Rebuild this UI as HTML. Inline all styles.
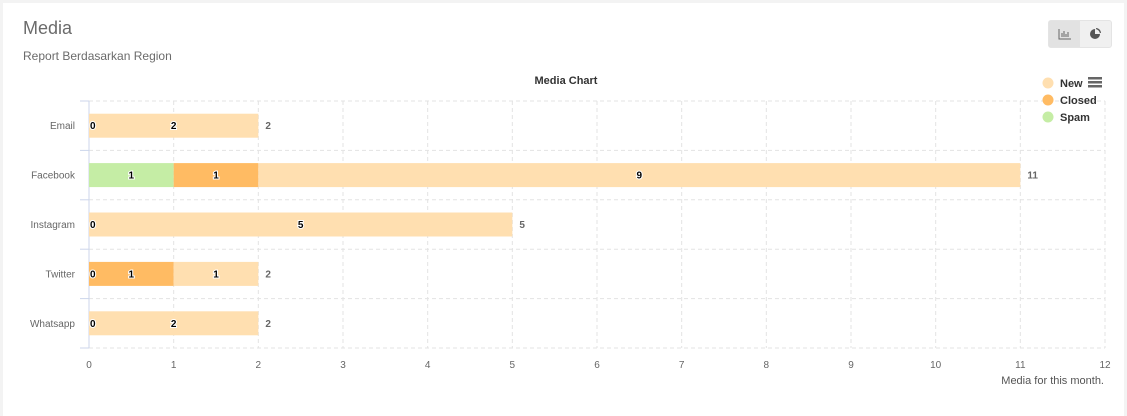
<!DOCTYPE html>
<html><head><meta charset="utf-8"><style>
body{margin:0;width:1127px;height:416px;background:#f3f3f3;font-family:"Liberation Sans",sans-serif;overflow:hidden}
#card{position:absolute;left:3px;top:3px;width:1121px;height:413px;background:#fff}
.h{position:absolute;left:20px;top:15px;font-size:18px;color:#6b6b6b}
.s{position:absolute;left:20px;top:46px;font-size:12px;color:#6b6b6b}
.btns{position:absolute;left:1045px;top:17px;width:62px;height:26px;background:#f0f0f0;border-radius:3px;border:1px solid #e4e4e4}
.b1{position:absolute;left:0;top:0;width:31px;height:26px;background:#e2e2e2}
svg{position:absolute;left:0;top:0}
</style></head><body>
<div id="card">
<div class="h">Media</div>
<div class="s">Report Berdasarkan Region</div>
<div class="btns">
<div class="b1"><svg width="31" height="26"><path d="M10 8v10h12M13 16v-4M15 16v-6M17 16v-3M19 16v-5" stroke="#666" stroke-width="1" fill="none"/></svg></div>
<div style="position:absolute;left:31px;top:0;width:31px;height:26px"><svg width="31" height="26"><circle cx="15" cy="13" r="5" fill="#555"/><path d="M16 7a5 5 0 0 1 5 5h-5z" fill="#555"/><path d="M15 13l5 0a5 5 0 0 0-5-5z" fill="#f0f0f0"/></svg></div>
</div>
</div>
<svg id="chart" width="1127" height="416"></svg>
<script>
const categories=["Email","Facebook","Instagram","Twitter","Whatsapp"];
const spam=[0,1,0,0,0];
const closed=[0,1,0,1,0];
const newV=[2,9,5,1,2];
const xTicks=[0,1,2,3,4,5,6,7,8,9,10,11,12];
const svg=document.getElementById('chart');const NS='http://www.w3.org/2000/svg';
const X0=89,X1=1105,T=101,B=348,XMAX=12;
const x=v=>X0+(X1-X0)*v/XMAX;
const band=(B-T)/categories.length;
const yc=i=>T+band*(i+0.5);
function el(t,a,txt){const e=document.createElementNS(NS,t);for(const k in a)e.setAttribute(k,a[k]);if(txt!==undefined)e.textContent=txt;svg.appendChild(e);return e;}
let t=el('text',{x:566,y:84,'text-anchor':'middle','font-size':11,'font-weight':'bold',fill:'#333'},'Media Chart');


xTicks.forEach(v=>{const l=el('line',{x1:x(v),x2:x(v),y1:T,y2:B,stroke:'#e3e3e3','stroke-dasharray':'4,3'});


const tx=el('text',{x:x(v),y:368,'text-anchor':'middle','font-size':10,fill:'#666'},v);

});
for(let i=0;i<=categories.length;i++){const y=T+band*i;const l=el('line',{x1:X0,x2:X1,y1:y,y2:y,stroke:'#e3e3e3','stroke-dasharray':'4,3'});


const tk=el('line',{x1:80,x2:X0,y1:y,y2:y,stroke:'#ccd6eb'});

}
const ax=el('line',{x1:X0,x2:X0,y1:T,y2:B,stroke:'#ccd6eb'});


const series=[{name:'spam',v:spam,c:'#c5eda5'},{name:'closed',v:closed,c:'#ffbb63'},{name:'new',v:newV,c:'#ffdfb0'}];
function lab(xx,yy,s,anchor){const o={x:xx,y:yy+3.5,'text-anchor':anchor||'middle','font-size':10,'font-weight':'bold',fill:'#000',stroke:'#fff','stroke-width':2,'paint-order':'stroke'};const e=el('text',o,s);

}
categories.forEach((c,i)=>{const cy=yc(i);
const ct=el('text',{x:75,y:cy+3.5,'text-anchor':'end','font-size':10,fill:'#666'},c);


let acc=0;series.forEach(s=>{const v=s.v[i];if(v>0){const r=el('rect',{x:x(acc),y:cy-12,width:x(acc+v)-x(acc),height:24,fill:s.c});

}acc+=v;});
acc=0;series.forEach((s,k)=>{const v=s.v[i];if(v>0)lab((x(acc)+x(acc+v))/2,cy,v);else if(k<2&&!(k===1&&spam[i]===0&&closed[i]===0&&false)){if(k===0||(k===1&&spam[i]>0))lab(x(acc)+1,cy,0,'start');}acc+=v;});
const tot=el('text',{x:x(acc)+7,y:cy+3.5,'font-size':10,'font-weight':'bold',fill:'#666'},acc);

});
const lg=[['New','#ffdfb0'],['Closed','#ffbb63'],['Spam','#c5eda5']];
lg.forEach((l,i)=>{const y=83+i*17;const c=el('circle',{cx:1048,cy:y,r:5.5,fill:l[1]});


const tx=el('text',{x:1060,y:y+4,'font-size':11,'font-weight':'bold',fill:'#333'},l[0]);

});
[78,82,86].forEach(y=>{const r=el('rect',{x:1088,y:y-1,width:14,height:2.5,fill:'#666'});

});
const xt=el('text',{x:1104,y:384,'text-anchor':'end','font-size':11,fill:'#555'},'Media for this month.');


</script>
</body></html>
